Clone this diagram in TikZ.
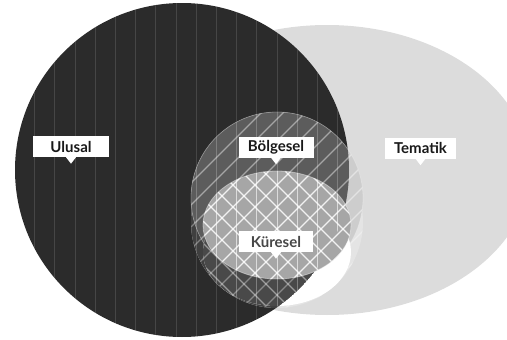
\documentclass[tikz,border=0pt]{standalone}
\usepackage{fontspec}
\setmainfont{Lato}
\definecolor{ulus}{HTML}{2B2B2B}
\definecolor{tema}{HTML}{DCDCDC}
\definecolor{kface}{HTML}{A6A6A6}
\newcommand\mkvl[1]{\foreach \i in {-14,...,12}{\draw[#1] ({277+20.2*\i},0) -- ++(0,340);}}
\newcommand\mkne[1]{\foreach \i in {-22,...,12}{\draw[#1] ({462+22*\i},0) -- ++(-340,340);}}
\newcommand\mknw[1]{\foreach \i in {-12,...,20}{\draw[#1] ({92+22*\i},0) -- ++(340,340);}}
\def\ULU{(182,170) circle (167pt)}
\def\BFACE{(277,198) circle (86pt)}
\def\BBODY{(277,222) circle (86pt)}
\def\KFACE{(277,225) ellipse [x radius=74pt, y radius=54pt]}
\def\KBODY{(277,252) ellipse [x radius=74pt, y radius=54pt]}
\begin{document}
\begin{tikzpicture}[x=1pt,y=-1pt,
  lbl/.style={fill=white, inner sep=0pt, minimum height=21pt,
    font=\fontsize{15}{15}\selectfont\bfseries, text=black!90},
  vln/.style={white, line width=0.8pt},
  dln/.style={white, line width=1.1pt}]
\useasboundingbox (0,0) rectangle (507,340);
% Tematik
\fill[tema] (327,170) ellipse [x radius=203pt, y radius=145pt];
% Ulusal
\fill[ulus] \ULU;
\begin{scope}\clip \ULU; \mkvl{vln, opacity=0.13} \end{scope}
% Bolgesel body
\begin{scope}
  \clip \BBODY;
  \fill[tema!77!white] (0,0) rectangle (507,340);
  \fill[ulus!90!white] \ULU;
  \begin{scope}\clip \ULU; \mkvl{vln, opacity=0.18} \end{scope}
  \mkne{dln, opacity=0.35}
\end{scope}
% Bolgesel face
\begin{scope}
  \clip \BFACE;
  \fill[tema!93!black] (0,0) rectangle (507,340);
  \fill[ulus!77!white] \ULU;
  \begin{scope}\clip \ULU; \mkvl{vln, opacity=0.22} \end{scope}
  \mkne{dln, opacity=0.45}
\end{scope}
\draw[white, opacity=0.25, line width=0.8pt] \BFACE;
% Kuresel body
\begin{scope}
  \clip \KBODY;
  \fill[white] (0,0) rectangle (507,340);
  \begin{scope}
    \clip \ULU;
    \fill[ulus!86!white] \ULU;
    \mkvl{vln, opacity=0.3}
    \mkne{dln, opacity=0.35}
    \mknw{dln, opacity=0.45}
  \end{scope}
\end{scope}
% Kuresel face
\begin{scope}
  \clip \KFACE;
  \fill[kface] (0,0) rectangle (507,340);
  \begin{scope}\clip \ULU; \mkvl{vln, opacity=0.6} \end{scope}
  \mkne{dln, opacity=0.85}
  \mknw{dln, opacity=0.85}
\end{scope}
\draw[white, opacity=0.4, line width=0.8pt] \KFACE;
% labels
\node[lbl, minimum width=76pt] (ulusal) at (71,146.5) {Ulusal};
\node[lbl, minimum width=75pt] (bolgesel) at (276,147) {Bölgesel};
\node[lbl, minimum width=71pt] (tematik) at (420.5,148) {Tematik};
\node[lbl, minimum width=74pt, text=black!72] (kuresel) at (276,241.5) {Küresel};
\foreach \n in {ulusal,bolgesel,tematik,kuresel}{
  \fill[white] ([xshift=-5pt]\n.south) -- ([xshift=5pt]\n.south) -- ([yshift=-6.5pt]\n.south) -- cycle;
}
\end{tikzpicture}
\end{document}
